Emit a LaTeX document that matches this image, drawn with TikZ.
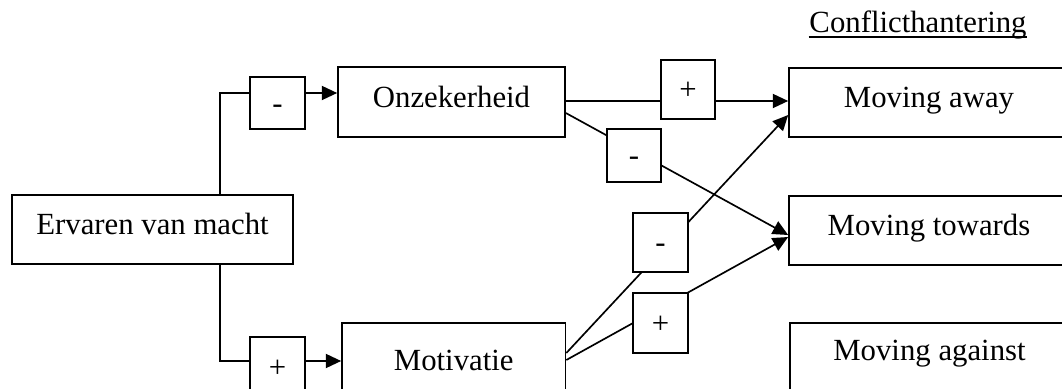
\documentclass[tikz,border=0pt]{standalone}
\usepackage{fontspec}
\setmainfont[Ligatures=NoCommon]{Liberation Serif}
\usetikzlibrary{arrows.meta,calc}
\begin{document}
\begin{tikzpicture}[x=0.39pt,y=-0.39pt, line width=0.65pt,
  font=\fontsize{12}{14}\selectfont,
  box/.style={draw, fill=white, inner sep=0pt, text height=8pt, text depth=4pt},
  signbox/.style={draw, fill=white, inner sep=0pt, text height=8pt, text depth=0pt},
  bx/.style 2 args={minimum width=#1*0.39pt, minimum height=#2*0.39pt},
  arr/.style={-{Triangle[length=6pt,width=5.5pt]}}]
\useasboundingbox (0,0) rectangle (1062,389);
\clip (0,0) rectangle (1062,389);

% title
\node[inner sep=0pt, anchor=base] (title) at (918,33) {Conflicthantering};
\draw[line width=0.5pt] ([yshift=-1.6pt]title.base west) -- ([yshift=-1.6pt]title.base east);

% main boxes
\node[box, bx={281}{69}] (erv) at (152.5,229.5) {Ervaren van macht};
\node[box, bx={227}{70}] (onz) at (451.5,102) {Onzekerheid};
\node[box, bx={223.5}{84}] (mot) at (453.75,365) {Motivatie};
\node[box, bx={280}{69}] (away) at (929,102.5) {Moving away};
\node[box, bx={280}{69}] (towards) at (929,230.5) {Moving towards};
\node[box, bx={279}{73}, text depth=7pt] (against) at (929.5,359.5) {Moving against};

% helper coordinates
\coordinate (k1) at (220,93);
\coordinate (k2) at (220,361);
\coordinate (h1) at (0,101);
\coordinate (h2) at (0,113);
\coordinate (h3) at (0,235);
\coordinate (h4) at (0,353);
\coordinate (h5) at (0,115);
\coordinate (h6) at (0,360);
\coordinate (h7) at (0,237);

% connectors
\draw[arr] (erv.north -| k1) |- (onz.west |- k1);
\draw[arr] (erv.south -| k2) |- (mot.west |- k2);
\draw[arr] (onz.east |- h1) -- (away.west |- h1);
\draw[arr] (onz.east |- h2) -- (towards.west |- h3);
\draw[arr] (mot.east |- h4) -- (away.west |- h5);
\draw[arr] (mot.east |- h6) -- (towards.west |- h7);

% sign boxes
\node[signbox, bx={55}{52}] (s1) at (277.5,103) {-};
\node[signbox, bx={55}{61}] (s2) at (277.5,367.5) {+};
\node[signbox, bx={54}{59}] (s3) at (688,89.5) {+};
\node[signbox, bx={54}{53}] (s4) at (634,155.5) {-};
\node[signbox, bx={55}{59}] (s5) at (660.5,242.5) {-};
\node[signbox, bx={55}{60}] (s6) at (660.5,323) {+};
\end{tikzpicture}
\end{document}
